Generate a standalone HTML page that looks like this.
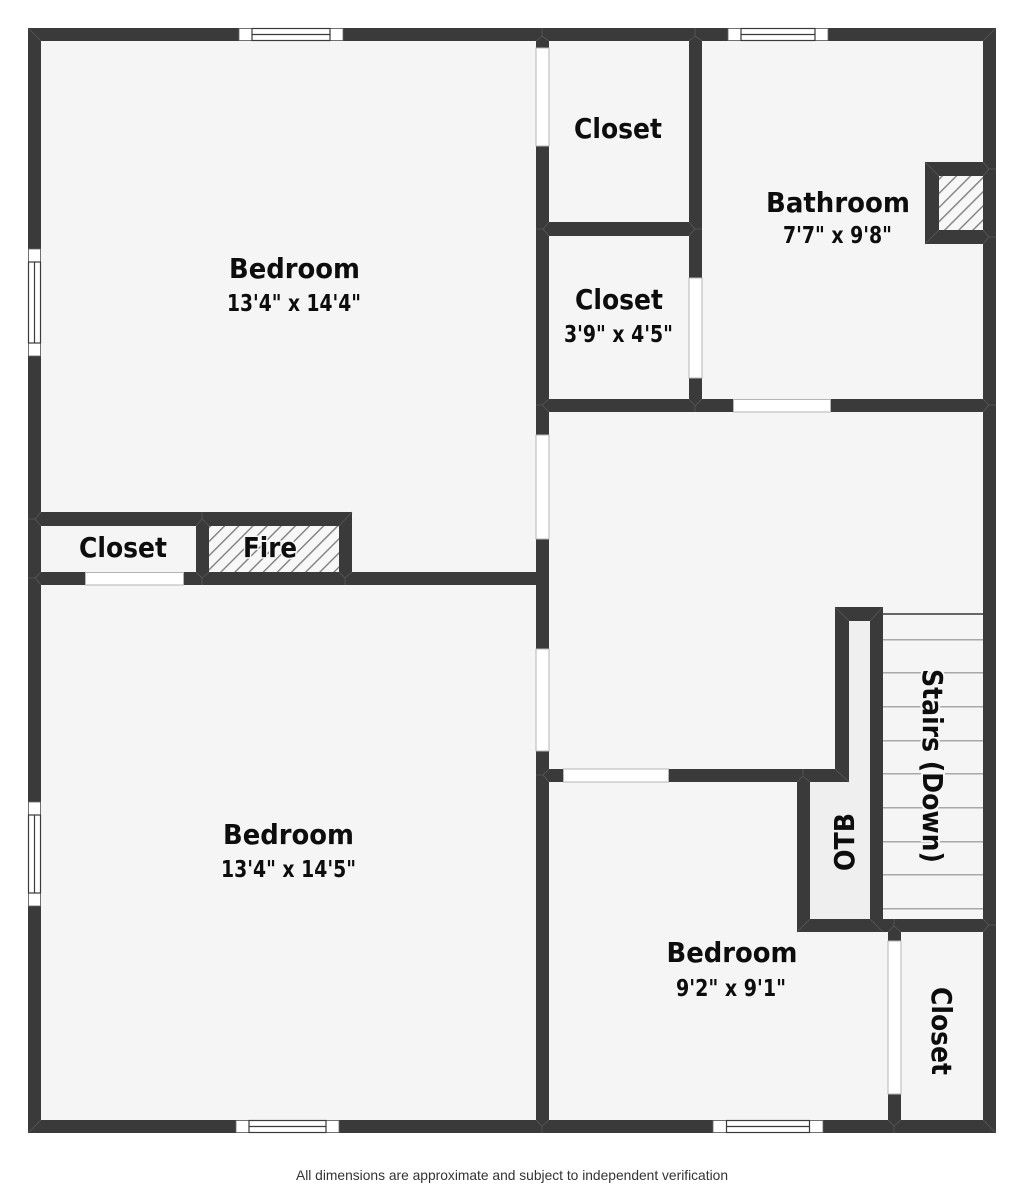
<!DOCTYPE html>
<html><head><meta charset="utf-8">
<style>
html,body{margin:0;padding:0;background:#fff;width:1024px;height:1189px;overflow:hidden}
svg{display:block}
text{font-family:"DejaVu Sans","Liberation Sans",sans-serif;font-weight:bold;fill:#0d0d0d;text-anchor:middle}
.h{font-size:27.5px}
.s{font-size:23px}
.m{stroke:#585858;stroke-width:.8;fill:none}
.o{fill:#fff;stroke:#b5b5b5;stroke-width:1}
.w{fill:#fff;stroke:#3a3a3a;stroke-width:1.2}
.c{fill:#fff;stroke:#666;stroke-width:.8}
</style></head><body>
<svg width="1024" height="1189" viewBox="0 0 1024 1189" xmlns="http://www.w3.org/2000/svg">
<defs>
<pattern id="hatch" width="10" height="10" patternUnits="userSpaceOnUse" patternTransform="rotate(45)">
<rect width="10" height="10" fill="#f7f7f7"/>
<rect x="0" width="1.4" height="10" fill="#808080"/>
</pattern>
</defs>
<rect x="28" y="28" width="968" height="1105" fill="#f5f5f5"/>
<!-- special floors -->
<rect x="209" y="526" width="130" height="46" fill="url(#hatch)"/>
<rect x="939" y="176" width="44" height="54" fill="url(#hatch)"/>
<path d="M849 621H870V919H810V782H849Z" fill="#efefef"/>
<!-- stair treads -->
<g fill="#a8a8a8">
<rect x="883" y="613" width="100" height="2" fill="#666"/>
<rect x="883" y="639" width="100" height="1.5"/>
<rect x="883" y="672" width="100" height="1.5"/>
<rect x="883" y="706" width="100" height="1.5"/>
<rect x="883" y="740" width="100" height="1.5"/>
<rect x="883" y="773" width="100" height="1.5"/>
<rect x="883" y="807" width="100" height="1.5"/>
<rect x="883" y="841" width="100" height="1.5"/>
<rect x="883" y="874" width="100" height="1.5"/>
<rect x="883" y="908" width="100" height="1.5"/>
</g>
<!-- walls -->
<g fill="#3a3a3a">
<rect x="28" y="28" width="968" height="13"/>
<rect x="28" y="1120" width="968" height="13"/>
<rect x="28" y="28" width="13" height="1105"/>
<rect x="983" y="28" width="13" height="1105"/>
<rect x="536" y="28" width="13" height="1105"/>
<rect x="689" y="28" width="13" height="384"/>
<rect x="549" y="222" width="140" height="14"/>
<rect x="536" y="399" width="460" height="13"/>
<rect x="28" y="512" width="324" height="14"/>
<rect x="28" y="572" width="508" height="13"/>
<rect x="196" y="512" width="13" height="73"/>
<rect x="339" y="512" width="13" height="73"/>
<rect x="925" y="162" width="58" height="14"/>
<rect x="925" y="230" width="58" height="14"/>
<rect x="925" y="162" width="14" height="82"/>
<rect x="536" y="769" width="313" height="13"/>
<rect x="835" y="607" width="14" height="175"/>
<rect x="835" y="607" width="48" height="14"/>
<rect x="870" y="607" width="13" height="325"/>
<rect x="797" y="769" width="13" height="163"/>
<rect x="797" y="919" width="199" height="13"/>
<rect x="888" y="932" width="13" height="201"/>
</g>
<!-- miter lines -->
<g class="m">
<path d="M28 28L41 41M996 28L983 41M28 1133L41 1120M996 1133L983 1120"/>
<path d="M542 28V36L536 41M542 36L549 41"/>
<path d="M695 28V36L689 41M695 36L702 41"/>
<path d="M536 229H543L549 222M543 229L549 236"/>
<path d="M702 229H695L689 222M695 229L689 236"/>
<path d="M536 405H542L549 399M542 405L549 412"/>
<path d="M695 412V406L689 399M695 406L702 399"/>
<path d="M996 405H989L983 399M989 405L983 412"/>
<path d="M28 519H35L41 512M35 519L41 526"/>
<path d="M28 578H35L41 572M35 578L41 585"/>
<path d="M202 512V519L196 526M202 519L209 526"/>
<path d="M202 585V578L196 572M202 578L209 572"/>
<path d="M352 512L339 526M345 585V578L339 572M345 578L352 572"/>
<path d="M925 162L939 176M925 244L939 230M996 169H989L983 162M989 169L983 176M996 237H989L983 230M989 237L983 244"/>
<path d="M835 607L849 621M883 607L870 621M849 782L835 769"/>
<path d="M803 769V776L797 782M803 776L810 782M797 932L810 919"/>
<path d="M870 919L883 932M894 919V926L888 932M894 926L901 932"/>
<path d="M996 925H989L983 919M989 925L983 932"/>
<path d="M894 1133V1126L888 1120M894 1126L901 1120"/>
<path d="M542 1133V1126L536 1120M542 1126L549 1120"/>
<path d="M536 775H543L549 769M543 775L549 782"/>
</g>
<!-- door openings -->
<rect class="o" x="536" y="48" width="13" height="98"/>
<rect class="o" x="536" y="435" width="13" height="104"/>
<rect class="o" x="536" y="649" width="13" height="102"/>
<rect class="o" x="689" y="278" width="13" height="100"/>
<rect class="o" x="733.500" y="399.500" width="97" height="12.500"/>
<rect class="o" x="85.500" y="572.500" width="98" height="12.500"/>
<rect class="o" x="563.500" y="769" width="105" height="13"/>
<rect class="o" x="888" y="941" width="13" height="153"/>
<!-- windows -->
<g>
<rect class="c" x="239" y="28.500" width="104" height="12"/>
<rect class="w" x="252" y="28.500" width="78" height="12"/>
<path d="M252 34.500H330" stroke="#3a3a3a" stroke-width="1.2"/>
<rect class="c" x="728" y="28.500" width="100" height="12"/>
<rect class="w" x="741" y="28.500" width="74" height="12"/>
<path d="M741 34.500H815" stroke="#3a3a3a" stroke-width="1.2"/>
<rect class="c" x="236" y="1120.500" width="103" height="12"/>
<rect class="w" x="249" y="1120.500" width="77" height="12"/>
<path d="M249 1126.500H326" stroke="#3a3a3a" stroke-width="1.2"/>
<rect class="c" x="713" y="1120.500" width="110" height="12"/>
<rect class="w" x="726.500" y="1120.500" width="83" height="12"/>
<path d="M726 1126.500H810" stroke="#3a3a3a" stroke-width="1.2"/>
<rect class="c" x="28.500" y="249" width="12" height="107"/>
<rect class="w" x="28.500" y="262" width="12" height="81"/>
<path d="M34.500 262V343" stroke="#3a3a3a" stroke-width="1.2"/>
<rect class="c" x="28.500" y="802" width="12" height="104"/>
<rect class="w" x="28.500" y="815" width="12" height="78"/>
<path d="M34.500 815V893" stroke="#3a3a3a" stroke-width="1.2"/>
</g>
<!-- labels -->
<text class="h" x="294.500" y="278" textLength="131" lengthAdjust="spacingAndGlyphs">Bedroom</text>
<text class="s" x="294" y="311" textLength="134" lengthAdjust="spacingAndGlyphs">13'4" x 14'4"</text>
<text class="h" x="618" y="138" textLength="88" lengthAdjust="spacingAndGlyphs">Closet</text>
<text class="h" x="838" y="212" textLength="144" lengthAdjust="spacingAndGlyphs">Bathroom</text>
<text class="s" x="837.500" y="243" textLength="109" lengthAdjust="spacingAndGlyphs">7'7" x 9'8"</text>
<text class="h" x="619" y="309" textLength="88" lengthAdjust="spacingAndGlyphs">Closet</text>
<text class="s" x="618.500" y="342" textLength="109" lengthAdjust="spacingAndGlyphs">3'9" x 4'5"</text>
<text class="h" x="123" y="557" textLength="88" lengthAdjust="spacingAndGlyphs">Closet</text>
<text class="h" x="270" y="557" textLength="54" lengthAdjust="spacingAndGlyphs" style="stroke:#f7f7f7;stroke-width:3;paint-order:stroke">Fire</text>
<text class="h" x="288.500" y="844" textLength="131" lengthAdjust="spacingAndGlyphs">Bedroom</text>
<text class="s" x="288.500" y="877" textLength="135" lengthAdjust="spacingAndGlyphs">13'4" x 14'5"</text>
<text class="h" x="732" y="962" textLength="131" lengthAdjust="spacingAndGlyphs">Bedroom</text>
<text class="s" x="731" y="996" textLength="110" lengthAdjust="spacingAndGlyphs">9'2" x 9'1"</text>
<text class="h" transform="translate(923,766) rotate(90)" textLength="194" lengthAdjust="spacingAndGlyphs" style="stroke:#f5f5f5;stroke-width:4;paint-order:stroke">Stairs (Down)</text>
<text class="h" transform="translate(932,1031) rotate(90)" textLength="88" lengthAdjust="spacingAndGlyphs">Closet</text>
<text class="h" transform="translate(854,842) rotate(-90)" textLength="58" lengthAdjust="spacingAndGlyphs">OTB</text>
<text x="512" y="1180" textLength="432" lengthAdjust="spacingAndGlyphs" style="font-family:'Liberation Sans',sans-serif;font-weight:normal;font-size:14px;fill:#333">All dimensions are approximate and subject to independent verification</text>
</svg>
</body></html>
